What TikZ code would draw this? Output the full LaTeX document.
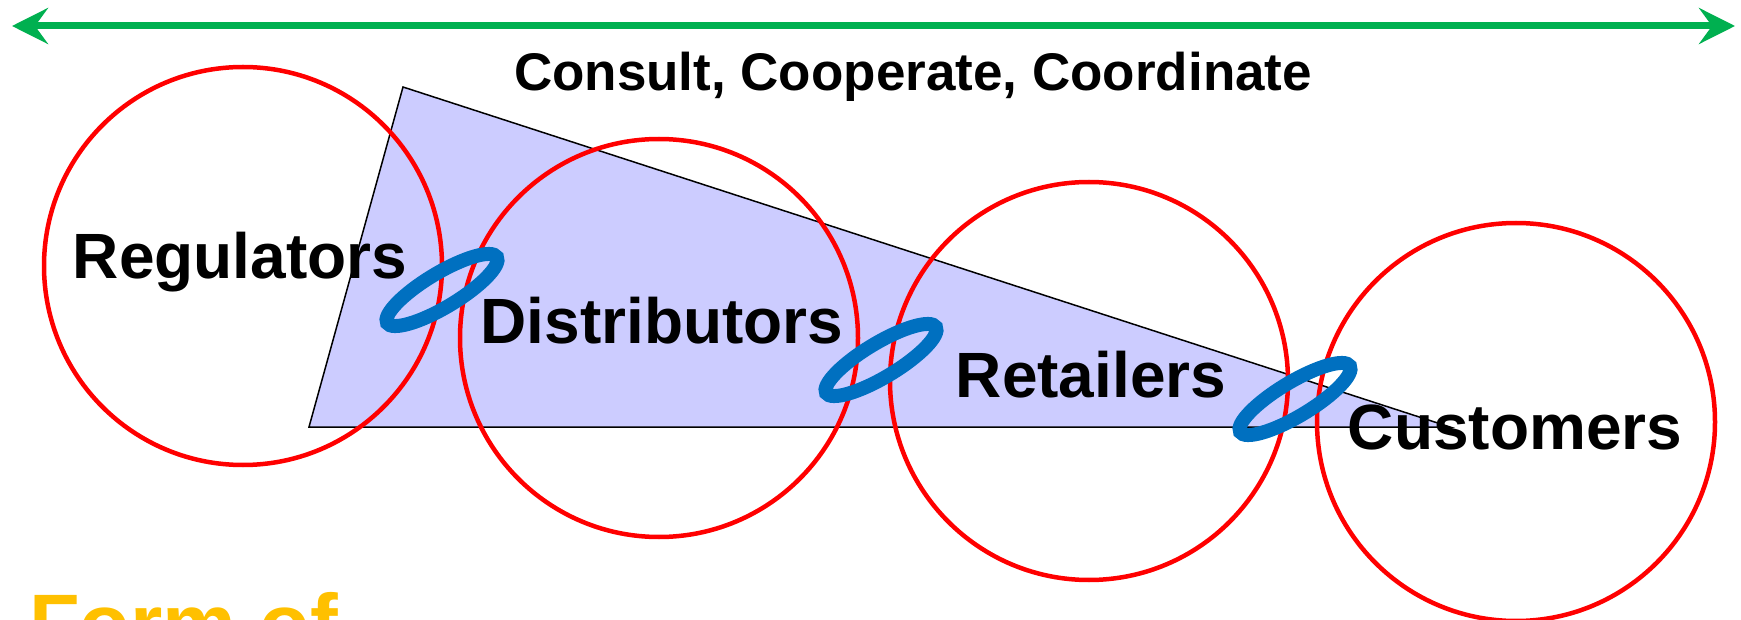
\documentclass[tikz,border=0pt]{standalone}
\usepackage{fontspec}
\setmainfont{Liberation Sans}
\usetikzlibrary{shapes.geometric, arrows.meta}
\definecolor{pptgreen}{HTML}{00B050}
\definecolor{pptblue}{HTML}{0070C0}
\definecolor{pptgold}{HTML}{FFC000}
\definecolor{lilac}{HTML}{CCCCFF}
\tikzset{
    ring/.style={circle, draw=red, line width=4.5pt, minimum size=398pt, inner sep=0pt},
    actor/.style={font=\fontsize{64}{64}\selectfont\bfseries, inner sep=0pt, anchor=base},
    link/.style={ellipse, draw=pptblue, line width=14pt, minimum width=128pt, minimum height=34pt, inner sep=0pt, rotate=31},
    arrow/.style={{Stealth[length=36pt, width=36pt, inset=13pt]}-{Stealth[length=36pt, width=36pt, inset=13pt]}, draw=pptgreen, line width=7pt}
}

\begin{document}
\begin{tikzpicture}[x=1pt, y=-1pt]
\clip (0,0) rectangle (1741,620);
% wedge behind the circles
\draw[fill=lilac, line width=1.5pt] (403,87) -- (1450,427) -- (309,427) -- cycle;
\node[ring] (reg) at (243,266) {};
\node[ring] (dist) at (659,338) {};
\node[ring] (ret) at (1089,381) {};
\node[ring] (cust) at (1516,422) {};
\node[actor] (regtxt) at (240,279) {Regulators};
\node[actor] (disttxt) at (662,344) {Distributors};
\node[actor] (rettxt) at (1091,397) {Retailers};
\node[actor] (custtxt) at (1515,449) {Customers};
% links between neighbours
\node[link] (l1) at (442,290) {};
\node[link] (l2) at (881,360) {};
\node[link] (l3) at (1295,399) {};
\coordinate (west) at (12,26);
\coordinate (east) at (1735,26);
\draw[arrow] (west) -- (east);
\node[font=\fontsize{53}{53}\selectfont\bfseries, inner sep=0pt, anchor=base] (ccc) at (913,91) {Consult, Cooperate, Coordinate};
\node[font=\fontsize{83}{83}\selectfont\bfseries, text=pptgold, inner sep=0pt, anchor=base west] (form) at (29,652) {Form of};
\end{tikzpicture}
\end{document}
